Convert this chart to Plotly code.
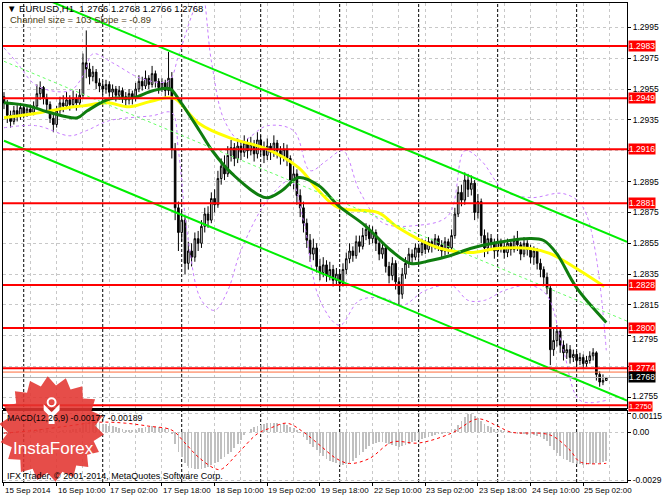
import math
import plotly.graph_objects as go

# ---------------- data ----------------
first_open = 1.2950
closes = [1.2946,1.2938,1.2934,1.2941,1.2937,1.2943,1.2939,1.2942,1.2940,1.2944,
 1.2952,1.2956,1.2949,1.2945,1.2936,1.2932,1.2941,1.2946,1.2944,1.2948,
 1.2945,1.2949,1.2946,1.2951,1.2972,1.2968,1.2963,1.2966,1.2959,1.2957,
 1.2955,1.2958,1.2953,1.2955,1.2951,1.2954,1.2950,1.2948,1.2952,1.2949,
 1.2955,1.2960,1.2957,1.2962,1.2958,1.2965,1.2960,1.2956,1.2959,1.2954,
 1.2962,1.2916,1.2878,1.2862,1.2870,1.2842,1.2850,1.2846,1.2858,1.2855,
 1.2866,1.2874,1.2870,1.2884,1.2880,1.2897,1.2905,1.2900,1.2912,1.2917,
 1.2910,1.2918,1.2914,1.2920,1.2915,1.2919,1.2913,1.2922,1.2917,1.2912,
 1.2918,1.2914,1.2920,1.2915,1.2911,1.2916,1.2910,1.2896,1.2900,1.2886,
 1.2878,1.2868,1.2857,1.2848,1.2852,1.2840,1.2836,1.2841,1.2834,1.2838,
 1.2831,1.2835,1.2829,1.2838,1.2845,1.2850,1.2847,1.2856,1.2853,1.2860,
 1.2864,1.2858,1.2862,1.2855,1.2848,1.2852,1.2840,1.2834,1.2842,1.2830,
 1.2822,1.2835,1.2842,1.2848,1.2846,1.2852,1.2849,1.2855,1.2851,1.2856,
 1.2853,1.2858,1.2854,1.2850,1.2856,1.2852,1.2860,1.2874,1.2888,1.2883,
 1.2896,1.2890,1.2894,1.2875,1.2882,1.2860,1.2852,1.2858,1.2855,1.2850,
 1.2856,1.2853,1.2849,1.2855,1.2851,1.2857,1.2854,1.2848,1.2855,1.2851,
 1.2846,1.2850,1.2842,1.2838,1.2833,1.2826,1.2786,1.2792,1.2798,1.2789,
 1.2784,1.2786,1.2781,1.2783,1.2779,1.2781,1.2777,1.2779,1.2782,1.2784,
 1.2770,1.2765,1.2766,1.2768]
highs = [1.2953,1.2948,1.2941,1.2944,1.2945,1.2946,1.2945,1.2944,1.2945,1.2947,
 1.2958,1.2960,1.2957,1.2952,1.2947,1.2939,1.2944,1.2950,1.2951,1.2953,
 1.2951,1.2954,1.2952,1.2955,1.2978,1.2993,1.2972,1.2970,1.2968,1.2962,
 1.2960,1.2961,1.2960,1.2958,1.2957,1.2957,1.2956,1.2953,1.2955,1.2954,
 1.2959,1.2964,1.2963,1.2967,1.2964,1.2970,1.2967,1.2962,1.2962,1.2961,
 1.2979,1.2966,1.2920,1.2882,1.2876,1.2872,1.2856,1.2855,1.2862,1.2863,
 1.2870,1.2878,1.2879,1.2888,1.2890,1.2902,1.2910,1.2912,1.2918,1.2922,
 1.2920,1.2923,1.2921,1.2925,1.2923,1.2924,1.2922,1.2927,1.2925,1.2921,
 1.2923,1.2920,1.2925,1.2922,1.2918,1.2920,1.2919,1.2912,1.2905,1.2903,
 1.2890,1.2882,1.2871,1.2861,1.2858,1.2855,1.2845,1.2846,1.2844,1.2843,
 1.2841,1.2839,1.2838,1.2842,1.2849,1.2855,1.2853,1.2860,1.2860,1.2865,
 1.2868,1.2867,1.2866,1.2864,1.2858,1.2856,1.2854,1.2843,1.2846,1.2844,
 1.2833,1.2839,1.2846,1.2852,1.2851,1.2855,1.2854,1.2858,1.2857,1.2859,
 1.2858,1.2861,1.2860,1.2857,1.2859,1.2858,1.2864,1.2878,1.2892,1.2893,
 1.2901,1.2900,1.2899,1.2896,1.2887,1.2884,1.2864,1.2862,1.2861,1.2858,
 1.2859,1.2858,1.2856,1.2858,1.2857,1.2860,1.2863,1.2856,1.2859,1.2857,
 1.2854,1.2853,1.2852,1.2845,1.2840,1.2836,1.2828,1.2800,1.2802,1.2800,
 1.2792,1.2790,1.2789,1.2786,1.2785,1.2784,1.2783,1.2782,1.2785,1.2787,
 1.2785,1.2772,1.2770,1.2768]
lows = [1.2942,1.2933,1.2930,1.2932,1.2934,1.2935,1.2936,1.2937,1.2938,1.2938,
 1.2942,1.2948,1.2945,1.2941,1.2933,1.2927,1.2930,1.2939,1.2940,1.2942,
 1.2941,1.2943,1.2941,1.2944,1.2949,1.2962,1.2958,1.2960,1.2955,1.2953,
 1.2951,1.2952,1.2950,1.2949,1.2947,1.2948,1.2946,1.2944,1.2945,1.2945,
 1.2947,1.2953,1.2954,1.2955,1.2955,1.2956,1.2956,1.2952,1.2953,1.2950,
 1.2951,1.2910,1.2870,1.2850,1.2856,1.2835,1.2838,1.2840,1.2843,1.2850,
 1.2852,1.2862,1.2865,1.2868,1.2875,1.2878,1.2893,1.2896,1.2898,1.2908,
 1.2905,1.2907,1.2909,1.2911,1.2910,1.2912,1.2908,1.2910,1.2912,1.2907,
 1.2909,1.2909,1.2911,1.2910,1.2906,1.2908,1.2905,1.2892,1.2890,1.2880,
 1.2872,1.2862,1.2852,1.2843,1.2844,1.2836,1.2831,1.2833,1.2830,1.2831,
 1.2827,1.2828,1.2824,1.2827,1.2835,1.2842,1.2843,1.2845,1.2849,1.2851,
 1.2857,1.2854,1.2855,1.2850,1.2844,1.2845,1.2836,1.2829,1.2831,1.2825,
 1.2815,1.2819,1.2832,1.2839,1.2842,1.2844,1.2845,1.2847,1.2848,1.2849,
 1.2849,1.2851,1.2850,1.2845,1.2847,1.2848,1.2850,1.2858,1.2872,1.2879,
 1.2880,1.2885,1.2886,1.2870,1.2871,1.2855,1.2846,1.2848,1.2851,1.2845,
 1.2847,1.2849,1.2845,1.2846,1.2847,1.2849,1.2850,1.2844,1.2846,1.2847,
 1.2842,1.2841,1.2838,1.2833,1.2828,1.2822,1.2776,1.2782,1.2788,1.2784,
 1.2779,1.2780,1.2777,1.2778,1.2775,1.2776,1.2774,1.2775,1.2777,1.2779,
 1.2766,1.2762,1.2763,1.2766]
opens = [first_open] + closes[:-1]
bars = list(range(len(closes)))

# moving averages (bar index, price)
ma_slow_i = [0, 9, 19.3, 24, 31.4, 38, 44, 49.5, 52, 59.4, 69.3, 79.6, 89.5, 95.6, 101.6, 113.7, 119.7, 131.7, 141.7, 149.8, 159.8, 165.8, 174.9, 182.4]
ma_slow_p = [1.29364, 1.2939, 1.29429, 1.29441, 1.29461, 1.29435, 1.29467, 1.29493, 1.29487, 1.29325, 1.29228, 1.29163, 1.2904, 1.28891, 1.28781, 1.28749, 1.28652, 1.28523, 1.2849, 1.28516, 1.28516, 1.28484, 1.28374, 1.2827]
ma_fast_i = [0, 7.2, 14.2, 22.3, 25.3, 32.3, 39.2, 45.2, 50.3, 53.4, 59.4, 63.3, 69.3, 79.6, 84.4, 89.5, 95.6, 101.6, 109.7, 117.6, 123.6, 129.6, 135.7, 141.7, 149.8, 159.8, 164, 167.9, 173.9, 183]
ma_fast_p = [1.29461, 1.29442, 1.29396, 1.29364, 1.29409, 1.29487, 1.29493, 1.29539, 1.29552, 1.29474, 1.2928, 1.2915, 1.29001, 1.28846, 1.28891, 1.28976, 1.28924, 1.28794, 1.28665, 1.28503, 1.28419, 1.28438, 1.28471, 1.28516, 1.28555, 1.28581, 1.28568, 1.28484, 1.28264, 1.28037]

# bands (violet dashed)
band_up_i = [0, 4, 10, 20, 24, 27, 33, 42, 50, 53, 57, 60, 63, 67, 72, 80, 88, 93, 98, 103, 108, 115, 125, 135, 140, 145, 152, 160, 170, 176, 183]
band_up_p = [1.29817, 1.2972, 1.29571, 1.29539, 1.29636, 1.29778, 1.2972, 1.29616, 1.29603, 1.29765, 1.30024, 1.30186, 1.29733, 1.29345, 1.29215, 1.29312, 1.2928, 1.29021, 1.29086, 1.2915, 1.28891, 1.28684, 1.28665, 1.2873, 1.2915, 1.29086, 1.28891, 1.28846, 1.28872, 1.28781, 1.27856]
band_dn_i = [0, 10, 20, 25, 32, 45, 51, 53, 56, 60, 64, 68, 72, 80, 87, 91, 96, 102, 108, 116, 121, 128, 136, 141, 146, 152, 160, 165, 170, 175, 183]
band_dn_p = [1.29299, 1.29312, 1.29247, 1.2928, 1.29345, 1.29377, 1.29396, 1.2915, 1.28568, 1.2818, 1.28115, 1.28244, 1.28503, 1.28827, 1.28956, 1.28697, 1.2818, 1.28018, 1.2818, 1.28192, 1.28147, 1.28244, 1.28277, 1.2818, 1.2818, 1.28244, 1.28277, 1.28212, 1.27856, 1.27532, 1.27532]

# regression channel
chan_lower_start = 1.29215
chan_width = 0.0103
chan_slope = -0.000089
chan_end_bar = 189.3

levels = [1.2983, 1.2949, 1.2916, 1.2881, 1.2828, 1.2800, 1.2774, 1.2750]
bid = 1.2768

price_ticks = [1.2995, 1.2975, 1.2955, 1.2935, 1.2915, 1.2895, 1.2875, 1.2855, 1.2835, 1.2815, 1.2795, 1.2775, 1.2755]
price_tick_hidden = [1.2915, 1.2775]
price_tick_nudged = {1.2795: -3, 1.2755: 2}

macd_hist = [-0.00012,-0.00010,-0.00010,-0.00008,-0.00006,-0.00004,
 -0.00002,0.00000,0.00003,0.00006,0.00012,0.00018,0.00016,0.00012,0.00004,-0.00002,
 0.00002,0.00008,0.00010,0.00014,0.00014,0.00018,0.00018,0.00022,
 0.00045,0.00060,0.00065,0.00068,0.00064,0.00058,
 0.00052,0.00048,0.00040,0.00036,0.00028,0.00026,0.00020,0.00014,0.00014,0.00010,
 0.00014,0.00022,0.00024,0.00030,0.00030,0.00036,0.00034,0.00028,0.00026,0.00020,0.00024,
 -0.00010,-0.00070,-0.00120,-0.00150,-0.00190,-0.00205,-0.00218,-0.00222,-0.00225,-0.00222,
 -0.00218,-0.00210,-0.00200,-0.00190,-0.00180,-0.00165,-0.00150,-0.00135,-0.00118,-0.00095,-0.00072,-0.00048,-0.00020,
 0.00002,0.00018,0.00030,0.00040,0.00046,0.00050,0.00054,0.00056,0.00058,0.00056,0.00052,0.00048,0.00042,0.00030,0.00022,0.00010,
 -0.00008,-0.00028,-0.00050,-0.00072,-0.00090,-0.00110,-0.00128,-0.00145,-0.00160,-0.00172,-0.00182,-0.00190,-0.00198,-0.00200,
 -0.00195,-0.00185,-0.00172,-0.00155,-0.00138,-0.00120,-0.00100,-0.00085,-0.00072,-0.00065,
 -0.00062,-0.00062,-0.00066,-0.00072,-0.00076,-0.00082,-0.00088,-0.00085,-0.00078,-0.00070,-0.00062,-0.00052,
 -0.00046,-0.00040,-0.00034,-0.00028,-0.00024,-0.00018,-0.00014,-0.00012,-0.00008,-0.00006,-0.00002,
 0.00018,0.00045,0.00065,0.00090,0.00108,0.00112,0.00100,0.00085,0.00068,0.00048,
 0.00036,0.00028,0.00020,0.00014,0.00010,0.00004,
 -0.00002,-0.00006,-0.00008,-0.00010,-0.00014,-0.00014,-0.00016,-0.00018,-0.00020,-0.00024,-0.00030,-0.00040,
 -0.00052,-0.00085,-0.00110,-0.00128,-0.00145,-0.00160,-0.00170,-0.00180,
 -0.00188,-0.00192,-0.00196,-0.00198,-0.00198,-0.00196,-0.00192,-0.00190,-0.00186,-0.00180,-0.00177]
signal_i = [0, 9, 19, 29, 37, 44, 51, 55, 59, 64, 66, 71, 77, 81, 86, 91, 96, 101, 105, 111, 118, 126, 136, 144, 150, 154, 166, 172, 175, 183]
signal_v = [-0.00006, 0.0001, 0.00036, 0.0006, 0.00054, 0.00036, 0.00012, -0.00066, -0.0015, -0.0022, -0.00225, -0.0013, -0.0001, 0.00025, 0.00054, 0.0, -0.0008, -0.0016, -0.0019, -0.0016, -0.0006, -0.00066, -0.00006, 0.0008, 0.00036, 0.0, -0.00018, -0.0011, -0.0018, -0.00189]
macd_ticks = [0.00115, 0.0, -0.0029]
macd_tick_text = ["0.00115", "0.00", "-0.0029"]

time_label_bars = [0, 16, 32, 48, 64, 80, 96, 112, 128, 144, 160, 176]
time_labels = ["15 Sep 2014", "16 Sep 10:00", "17 Sep 02:00", "17 Sep 18:00", "18 Sep 10:00",
               "19 Sep 02:00", "19 Sep 18:00", "22 Sep 10:00", "23 Sep 02:00", "23 Sep 18:00",
               "24 Sep 10:00", "25 Sep 02:00"]
day_break_bars = [6, 30, 54, 78, 102, 126, 150, 174]

assert len(closes) == len(highs) == len(lows) == len(macd_hist) == 184

# ---------------- layout geometry ----------------
W, H = 664, 498
ML, MR, MT, MB = 2, 33, 2, 16
PW, PH = W - ML - MR, H - MT - MB
FONT = "Liberation Sans, Arial, sans-serif"
AX_FONT = 8.5

def pxx(px):
    return (px - ML) / PW

def pxy(py):
    return (H - MB - py) / PH

main_dom = [pxy(408), 1.0]
macd_dom = [0.0, pxy(411)]
price_range = [1.27481, 1.30108]
macd_range = [-0.00302, 0.00127]
x_range = [-0.3, 189.3]

fig = go.Figure()

fig.add_trace(go.Candlestick(
    x=bars, open=opens, high=highs, low=lows, close=closes,
    xaxis="x", yaxis="y",
    increasing=dict(line=dict(color="black", width=1), fillcolor="white"),
    decreasing=dict(line=dict(color="black", width=1), fillcolor="black"),
    whiskerwidth=0, showlegend=False, hoverinfo="skip"))

for bi, bp in ((band_up_i, band_up_p), (band_dn_i, band_dn_p)):
    fig.add_trace(go.Scatter(x=bi, y=bp, mode="lines", xaxis="x", yaxis="y",
                             line=dict(color="#c77dff", width=1, dash="3px,3px", shape="spline"),
                             showlegend=False, hoverinfo="skip"))

fig.add_trace(go.Scatter(x=ma_slow_i, y=ma_slow_p, mode="lines", xaxis="x", yaxis="y",
                         line=dict(color="#ffff00", width=3, shape="spline"), showlegend=False, hoverinfo="skip"))
fig.add_trace(go.Scatter(x=ma_fast_i, y=ma_fast_p, mode="lines", xaxis="x", yaxis="y",
                         line=dict(color="#0f7d0f", width=3, shape="spline"), showlegend=False, hoverinfo="skip"))

cx = [0, chan_end_bar]
low_line = [chan_lower_start, chan_lower_start + chan_slope * chan_end_bar]
mid_line = [v + chan_width / 2 for v in low_line]
up_line = [v + chan_width for v in low_line]
fig.add_trace(go.Scatter(x=cx, y=mid_line, mode="lines", xaxis="x", yaxis="y",
                         line=dict(color="#66ff66", width=1, dash="3px,3px"), showlegend=False, hoverinfo="skip"))
for ln in (low_line, up_line):
    fig.add_trace(go.Scatter(x=cx, y=ln, mode="lines", xaxis="x", yaxis="y",
                             line=dict(color="#00ee00", width=2), showlegend=False, hoverinfo="skip"))

fig.add_trace(go.Bar(x=bars, y=macd_hist, xaxis="x2", yaxis="y2", width=0.55,
                     marker=dict(color="#c0c0c0", line=dict(width=0)), showlegend=False, hoverinfo="skip"))
fig.add_trace(go.Scatter(x=signal_i, y=signal_v, mode="lines", xaxis="x2", yaxis="y2",
                         line=dict(color="#ff0000", width=1, dash="dot", shape="spline"),
                         showlegend=False, hoverinfo="skip"))

shapes = []
for b in day_break_bars:
    shapes.append(dict(type="line", xref="x", yref="paper", x0=b, x1=b, y0=0, y1=1,
                       line=dict(color="black", width=1, dash="3px,2px"), layer="below"))
for lv in levels:
    shapes.append(dict(type="line", xref="paper", yref="y", x0=0, x1=1, y0=lv, y1=lv,
                       line=dict(color="#ff0000", width=2), layer="above"))
shapes.append(dict(type="line", xref="paper", yref="y", x0=0, x1=1, y0=1.27715, y1=1.27715,
                   line=dict(color="#ff6a3a", width=1), layer="above"))
shapes.append(dict(type="line", xref="paper", yref="y", x0=0, x1=1, y0=bid, y1=bid,
                   line=dict(color="#b0b0b0", width=1), layer="above"))
shapes.append(dict(type="line", xref="paper", yref="paper", x0=0, x1=1, y0=pxy(409), y1=pxy(409),
                   line=dict(color="black", width=2), layer="above"))

# InstaForex seal
cxp, cyp, R1, R2, n = 51, 429, 53, 44, 18
pts = []
for k in range(2 * n):
    r = R1 if k % 2 == 0 else R2
    a = math.pi * k / n + 0.1
    pts.append((pxx(cxp + r * math.cos(a)), pxy(cyp + r * math.sin(a))))
path = "M " + " L ".join(f"{x:.5f},{y:.5f}" for x, y in pts) + " Z"
shapes.append(dict(type="path", xref="paper", yref="paper", path=path,
                   fillcolor="rgba(226,52,48,0.88)", line=dict(width=0), layer="above"))
shapes.append(dict(type="circle", xref="paper", yref="paper", x0=pxx(47), x1=pxx(55), y0=pxy(398), y1=pxy(406),
                   line=dict(color="white", width=2), fillcolor="rgba(0,0,0,0)", layer="above"))
icon = f"M {pxx(43):.5f},{pxy(404):.5f} L {pxx(51):.5f},{pxy(412):.5f} L {pxx(59):.5f},{pxy(404):.5f} L {pxx(59):.5f},{pxy(410):.5f} L {pxx(54):.5f},{pxy(415):.5f} L {pxx(54):.5f},{pxy(424):.5f} L {pxx(48):.5f},{pxy(424):.5f} L {pxx(48):.5f},{pxy(415):.5f} L {pxx(43):.5f},{pxy(410):.5f} Z"
shapes.append(dict(type="path", xref="paper", yref="paper", path=icon, fillcolor="white",
                   line=dict(width=0), layer="above"))

ann = []
def text(px, py, s, size=9, color="black", anchor="left", **kw):
    ann.append(dict(xref="paper", yref="paper", x=pxx(px), y=pxy(py), text=s, showarrow=False,
                    xanchor=anchor, yanchor="middle", font=dict(family=FONT, size=size, color=color), **kw))

text(4, 8, "▼ EURUSD,H1  1.2766 1.2768 1.2766 1.2768", size=9.5)
text(7, 19, "Channel size = 103 Slope = -0.89", size=9.5, color="#4a3c14")
text(4, 418, "MACD(12,26,9) -0.00177 -0.00189", size=8.8)
text(4, 476, "IFX Trader, © 2001-2014, MetaQuotes Software Corp.", size=9)
text(53, 448, "InstaForex", size=17, color="white", anchor="center")

# nudged axis labels (crowded spots next to the level tags)
for t, dy in price_tick_nudged.items():
    ann.append(dict(xref="paper", yref="y", x=1, y=t, xshift=3, yshift=dy, text=f"{t:.4f}",
                    showarrow=False, xanchor="left", yanchor="middle",
                    font=dict(family=FONT, size=AX_FONT, color="black")))
ann.append(dict(xref="paper", yref="y2", x=1, y=macd_ticks[0], xshift=3, yshift=-3, text=macd_tick_text[0],
                showarrow=False, xanchor="left", yanchor="middle",
                font=dict(family=FONT, size=AX_FONT, color="black")))

for lv in levels:
    small = lv == levels[-1]
    ann.append(dict(xref="paper", yref="y", x=1, y=lv, xshift=1, yshift=-1 if small else 0,
                    text=f"{lv:.4f}", showarrow=False,
                    xanchor="left", yanchor="middle", bgcolor="#ff0000", borderpad=0,
                    font=dict(family=FONT, size=7.5 if small else 8.5, color="white")))
ann.append(dict(xref="paper", yref="y", x=1, y=bid, xshift=1, text=f"{bid:.4f}", showarrow=False,
                xanchor="left", yanchor="middle", bgcolor="black", borderpad=0,
                font=dict(family=FONT, size=8.5, color="white")))

for b, s in zip(time_label_bars, time_labels):
    ann.append(dict(xref="x2", yref="paper", x=b, y=pxy(484), text=s, showarrow=False,
                    xanchor="left", yanchor="top", xshift=-1, font=dict(family=FONT, size=8, color="black")))

grid = dict(showgrid=True, gridcolor="#c8c8c8", griddash="3px,3px", gridwidth=1)
fig.update_layout(
    width=W, height=H, margin=dict(l=ML, r=MR, t=MT, b=MB),
    paper_bgcolor="white", plot_bgcolor="white", showlegend=False, hovermode=False,
    bargap=0,
    xaxis=dict(domain=[0, 1], range=x_range, anchor="y", tickvals=list(range(0, 190, 8)),
               showticklabels=False, ticks="", rangeslider=dict(visible=False),
               showline=True, linecolor="black", linewidth=1, mirror=True, zeroline=False, **grid),
    yaxis=dict(domain=main_dom, range=price_range, anchor="x", side="right",
               tickvals=price_ticks,
               ticktext=["" if (t in price_tick_hidden or t in price_tick_nudged) else f"{t:.4f}" for t in price_ticks],
               ticks="outside", ticklen=3, tickcolor="black",
               tickfont=dict(family=FONT, size=AX_FONT, color="black"),
               showline=True, linecolor="black", linewidth=1, mirror=True, zeroline=False, **grid),
    xaxis2=dict(domain=[0, 1], range=x_range, anchor="y2", matches="x",
                tickvals=time_label_bars, showticklabels=False, ticks="outside", ticklen=3,
                tickcolor="black", minor=dict(tickvals=list(range(8, 190, 16)), showgrid=True,
                                              gridcolor="#c8c8c8", griddash="3px,3px"),
                showline=True, linecolor="black", linewidth=1, mirror=True, zeroline=False, **grid),
    yaxis2=dict(domain=macd_dom, range=macd_range, anchor="x2", side="right",
                tickvals=macd_ticks, ticktext=[""] + macd_tick_text[1:], ticks="outside", ticklen=3,
                tickcolor="black", tickfont=dict(family=FONT, size=AX_FONT, color="black"),
                showline=True, linecolor="black", linewidth=1, mirror=True, zeroline=False, **grid),
    shapes=shapes, annotations=ann,
)

fig.write_html("out.html", config={"displayModeBar": False, "staticPlot": True},
               post_script="document.body.style.margin='0px';document.body.style.overflow='hidden';")
